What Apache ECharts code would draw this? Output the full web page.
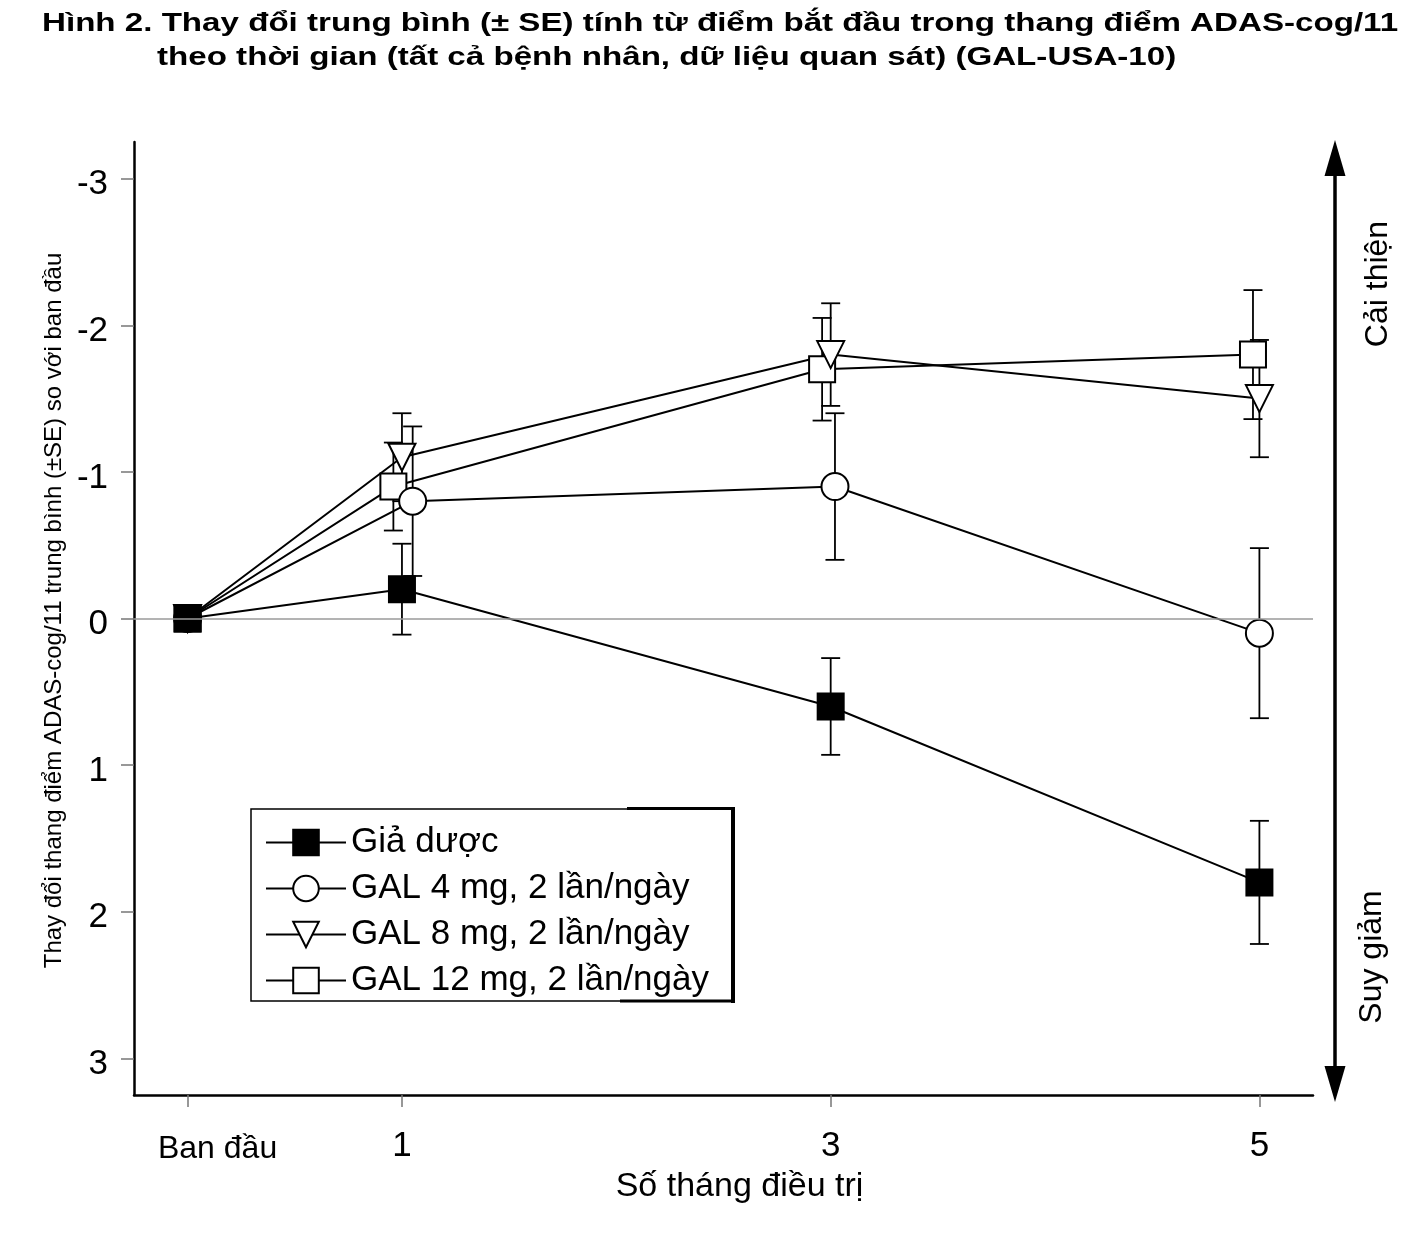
<!DOCTYPE html>
<html><head><meta charset="utf-8">
<script src="https://cdn.jsdelivr.net/npm/echarts@6.0.0/dist/echarts.min.js"></script>
<style>html,body{margin:0;padding:0;background:#fff}#c{width:1411px;height:1244px}</style>
</head><body><div id="c"></div>
<script>
const FONT = '"Liberation Sans", Arial, Helvetica, sans-serif';
const titleLine1 = 'Hình 2. Thay đổi trung bình (± SE) tính từ điểm bắt đầu trong thang điểm ADAS-cog/11';
const titleLine2 = 'theo thời gian (tất cả bệnh nhân, dữ liệu quan sát) (GAL-USA-10)';
const seriesNames = ['Giả dược', 'GAL 4 mg, 2 lần/ngày', 'GAL 8 mg, 2 lần/ngày', 'GAL 12 mg, 2 lần/ngày'];

// month positions (slightly dodged as in the original), means and SE
const placeboMonths = [0, 1, 3, 5];
const placeboMean   = [0, -0.2, 0.6, 1.8];
const placeboSE     = [0, 0.31, 0.33, 0.42];

const gal4Months = [0, 1.05, 3.02, 5];
const gal4Mean   = [0, -0.8, -0.9, 0.1];
const gal4SE     = [0, 0.51, 0.5, 0.58];

const gal8Months = [0, 1, 3, 5];
const gal8Mean   = [0, -1.1, -1.8, -1.5];
const gal8SE     = [0, 0.3, 0.35, 0.4];

const gal12Months = [0, 0.96, 2.96, 4.97];
const gal12Mean   = [0, -0.9, -1.7, -1.8];
const gal12SE     = [0, 0.3, 0.35, 0.44];

const xTickValues = [0, 1, 3, 5];
const xTickLabels = ['Ban đầu', '1', '3', '5'];
const yTickValues = [-3, -2, -1, 0, 1, 2, 3];
const yTickLabels = ['-3', '-2', '-1', '0', '1', '2', '3'];
const xAxisName = 'Số tháng điều trị';
const yAxisName = 'Thay đổi thang điểm ADAS-cog/11 trung bình (±SE) so với ban đầu';
const upLabel = 'Cải thiện';
const downLabel = 'Suy giảm';

function pairs(xs, ys) { return xs.map((x, i) => [x, ys[i]]); }
function errData(xs, ms, ses) {
  const out = [];
  xs.forEach((x, i) => { if (ses[i] > 0) out.push([x, ms[i] - ses[i], ms[i] + ses[i]]); });
  return out;
}
function errRender(params, api) {
  const x = api.value(0), lo = api.value(1), hi = api.value(2);
  const p1 = api.coord([x, lo]), p2 = api.coord([x, hi]);
  const hw = 9.5;
  const st = { stroke: '#000', lineWidth: 1.8, fill: null };
  return { type: 'group', children: [
    { type: 'line', shape: { x1: p1[0], y1: p1[1], x2: p2[0], y2: p2[1] }, style: st },
    { type: 'line', shape: { x1: p1[0] - hw, y1: p1[1], x2: p1[0] + hw, y2: p1[1] }, style: st },
    { type: 'line', shape: { x1: p2[0] - hw, y1: p2[1], x2: p2[0] + hw, y2: p2[1] }, style: st }
  ]};
}
function errSeries(name, xs, ms, ses, withZero) {
  const s = {
    type: 'custom', name: name + '_se', renderItem: errRender,
    data: errData(xs, ms, ses), encode: { x: 0, y: [1, 2] }, z: 1, silent: true
  };
  if (withZero) {
    s.markLine = { silent: true, symbol: ['none', 'none'], label: { show: false },
      lineStyle: { color: '#9a9a9a', width: 1.5, type: 'solid' }, data: [{ yAxis: 0 }], animation: false };
  }
  return s;
}
function lineSeries(name, xs, ms, symbol, size, fill, z, rotate) {
  return {
    type: 'line', name: name, data: pairs(xs, ms), symbol: symbol, symbolSize: size,
    symbolRotate: rotate || 0, showAllSymbol: true, z: z,
    lineStyle: { color: '#000', width: 2 },
    itemStyle: { color: fill, borderColor: '#000', borderWidth: 2 },
    emphasis: { disabled: true }
  };
}

const chart = echarts.init(document.getElementById('c'), null, { renderer: 'canvas' });
chart.setOption({
  animation: false,
  backgroundColor: '#fff',
  textStyle: { fontFamily: FONT },
  grid: { left: 134, right: 98, top: 142, bottom: 149, containLabel: false },
  xAxis: {
    type: 'value', min: -0.25, max: 5.25,
    axisLine: { show: true, onZero: false, lineStyle: { color: '#000', width: 2.5 } },
    axisTick: { show: true, customValues: xTickValues, length: 12, lineStyle: { color: '#777', width: 1.5 } },
    axisLabel: {
      customValues: xTickValues, margin: 34, color: '#000', fontFamily: FONT,
      formatter: v => {
        const i = xTickValues.indexOf(v);
        return i === 0 ? '{b|' + xTickLabels[i] + '}' : '{n|' + xTickLabels[i] + '}';
      },
      rich: { b: { fontSize: 32, fontFamily: FONT, color: '#000', padding: [4, 0, 0, 60] },
              n: { fontSize: 35, fontFamily: FONT, color: '#000' } }
    },
    splitLine: { show: false },
    name: xAxisName, nameLocation: 'middle', nameGap: 75,
    nameTextStyle: { fontSize: 34, color: '#000', fontFamily: FONT, padding: [0, 0, 0, 32] }
  },
  yAxis: {
    type: 'value', inverse: true, min: -3.25, max: 3.25,
    axisLine: { show: true, onZero: false, lineStyle: { color: '#000', width: 2.5 } },
    axisTick: { show: true, customValues: yTickValues, length: 13, lineStyle: { color: '#777', width: 1.5 } },
    axisLabel: {
      customValues: yTickValues, margin: 26, color: '#000', fontFamily: FONT,
      formatter: v => '{a|' + yTickLabels[yTickValues.indexOf(v)] + '}',
      rich: { a: { fontSize: 35, fontFamily: FONT, color: '#000', padding: [12, 0, 0, 0] } }
    },
    splitLine: { show: false },
    name: yAxisName, nameLocation: 'middle', nameGap: 68, nameRotate: 90,
    nameTextStyle: { fontSize: 24, color: '#000', fontFamily: FONT, padding: [0, 0, 0, 16] }
  },
  legend: {
    data: seriesNames, orient: 'vertical', left: 265, top: 825, padding: 0,
    itemWidth: 80, itemHeight: 32, itemGap: 11, selectedMode: false,
    textStyle: { fontSize: 35, color: '#000', fontFamily: FONT, lineHeight: 33 }
  },
  graphic: [
    { type: 'text', x: 42, y: 10, scaleX: 1.25,
      style: { text: titleLine1, fontSize: 26.5, fontWeight: 'bold', fontFamily: FONT, fill: '#000', align: 'left', verticalAlign: 'top' } },
    { type: 'text', x: 157, y: 44, scaleX: 1.25,
      style: { text: titleLine2, fontSize: 26.5, fontWeight: 'bold', fontFamily: FONT, fill: '#000', align: 'left', verticalAlign: 'top' } },
    { type: 'rect', z: 3, shape: { x: 251, y: 809, width: 482, height: 192 },
      style: { fill: '#fff', stroke: '#000', lineWidth: 1.5 } },
    { type: 'line', z: 3, shape: { x1: 733, y1: 807, x2: 733, y2: 1003 }, style: { stroke: '#000', lineWidth: 4 } },
    { type: 'line', z: 3, shape: { x1: 627, y1: 808.5, x2: 735, y2: 808.5 }, style: { stroke: '#000', lineWidth: 3 } },
    { type: 'line', z: 3, shape: { x1: 620, y1: 1001, x2: 735, y2: 1001 }, style: { stroke: '#000', lineWidth: 3 } },
    { type: 'line', shape: { x1: 1335, y1: 170, x2: 1335, y2: 1072 }, style: { stroke: '#000', lineWidth: 3.5 } },
    { type: 'polygon', shape: { points: [[1335, 140], [1324.5, 176], [1345.5, 176]] }, style: { fill: '#000' } },
    { type: 'polygon', shape: { points: [[1335, 1102], [1324.5, 1066], [1345.5, 1066]] }, style: { fill: '#000' } },
    { type: 'text', x: 1378, y: 284, rotation: Math.PI / 2,
      style: { text: upLabel, fontSize: 32, fontFamily: FONT, fill: '#000', align: 'center', verticalAlign: 'middle' } },
    { type: 'text', x: 1372, y: 957, rotation: Math.PI / 2,
      style: { text: downLabel, fontSize: 32, fontFamily: FONT, fill: '#000', align: 'center', verticalAlign: 'middle' } }
  ],
  series: [
    errSeries(seriesNames[0], placeboMonths, placeboMean, placeboSE, true),
    errSeries(seriesNames[1], gal4Months, gal4Mean, gal4SE, false),
    errSeries(seriesNames[2], gal8Months, gal8Mean, gal8SE, false),
    errSeries(seriesNames[3], gal12Months, gal12Mean, gal12SE, false),
    lineSeries(seriesNames[3], gal12Months, gal12Mean, 'rect', 26, '#fff', 2),
    lineSeries(seriesNames[2], gal8Months, gal8Mean, 'triangle', 27, '#fff', 2, 180),
    lineSeries(seriesNames[1], gal4Months, gal4Mean, 'circle', 27, '#fff', 2),
    lineSeries(seriesNames[0], placeboMonths, placeboMean, 'rect', 26, '#000', 3)
  ]
});
</script>
</body></html>
